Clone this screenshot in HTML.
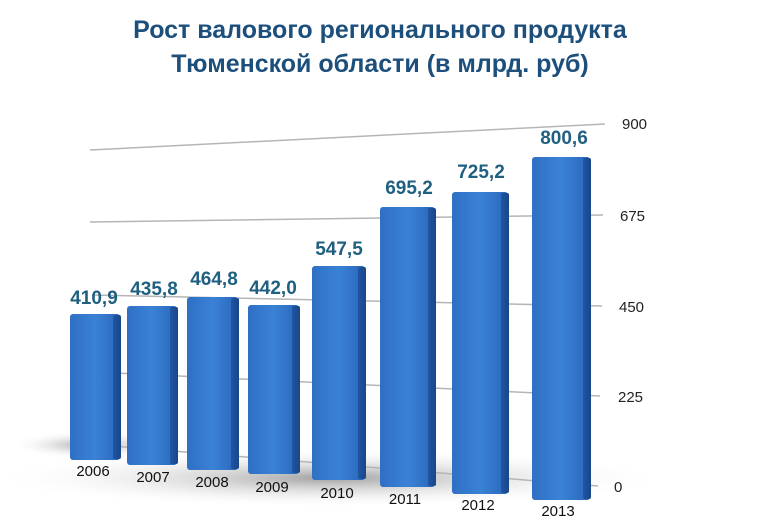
<!DOCTYPE html>
<html><head><meta charset="utf-8"><style>
html,body{margin:0;padding:0;background:#fff;width:760px;height:532px;overflow:hidden}
</style></head><body>
<svg width="760" height="532" viewBox="0 0 760 532" xmlns="http://www.w3.org/2000/svg" font-family="'Liberation Sans', sans-serif">
<defs>
<linearGradient id="bf" x1="0" y1="0" x2="1" y2="0">
<stop offset="0" stop-color="#2f6fc4"/><stop offset="0.5" stop-color="#3a82d6"/><stop offset="1" stop-color="#2a66ba"/>
</linearGradient>
<linearGradient id="bs" x1="0" y1="0" x2="1" y2="0">
<stop offset="0" stop-color="#1f56a3"/><stop offset="1" stop-color="#1a4688"/>
</linearGradient>
<radialGradient id="sh" cx="0.5" cy="0.5" r="0.5">
<stop offset="0" stop-color="#777" stop-opacity="0.7"/><stop offset="1" stop-color="#fff" stop-opacity="0"/>
</radialGradient>
</defs>
<text x="380" y="38" text-anchor="middle" font-size="25" font-weight="bold" fill="#1c4f7c" font-family="'Liberation Sans Narrow','Liberation Sans',sans-serif">Рост валового регионального продукта</text>
<text x="380" y="72" text-anchor="middle" font-size="25" font-weight="bold" fill="#1c4f7c" font-family="'Liberation Sans Narrow','Liberation Sans',sans-serif">Тюменской области (в млрд. руб)</text>
<ellipse cx="330" cy="478" rx="340" ry="30" fill="url(#sh)"/>
<ellipse cx="90" cy="445" rx="80" ry="14" fill="url(#sh)"/>
<g stroke="#b5b5b5" stroke-width="1.5">
<line x1="90" y1="150" x2="605" y2="124"/>
<line x1="90" y1="222" x2="603" y2="215"/>
<line x1="92" y1="295" x2="602" y2="306"/>
<line x1="95" y1="372" x2="600" y2="396"/>
<line x1="100" y1="445" x2="598" y2="486"/>
</g>
<g font-size="15" fill="#222">
<text x="622" y="129">900</text><text x="620" y="221">675</text><text x="619" y="312">450</text><text x="618" y="402">225</text><text x="614" y="492">0</text>
</g>
<g>
<rect x="70" y="314" width="50" height="146" rx="3" fill="url(#bf)"/><rect x="113" y="315" width="8" height="144" rx="2" fill="url(#bs)"/>
<rect x="127" y="306" width="50" height="159" rx="3" fill="url(#bf)"/><rect x="170" y="307" width="8" height="157" rx="2" fill="url(#bs)"/>
<rect x="187" y="297" width="51" height="173" rx="3" fill="url(#bf)"/><rect x="231" y="298" width="8" height="171" rx="2" fill="url(#bs)"/>
<rect x="248" y="305" width="51" height="169" rx="3" fill="url(#bf)"/><rect x="292" y="306" width="8" height="167" rx="2" fill="url(#bs)"/>
<rect x="312" y="266" width="53" height="214" rx="3" fill="url(#bf)"/><rect x="358" y="267" width="8" height="212" rx="2" fill="url(#bs)"/>
<rect x="380" y="207" width="55" height="280" rx="3" fill="url(#bf)"/><rect x="428" y="208" width="8" height="278" rx="2" fill="url(#bs)"/>
<rect x="452" y="192" width="56" height="302" rx="3" fill="url(#bf)"/><rect x="501" y="193" width="8" height="300" rx="2" fill="url(#bs)"/>
<rect x="532" y="157" width="58" height="343" rx="3" fill="url(#bf)"/><rect x="583" y="158" width="8" height="341" rx="2" fill="url(#bs)"/>
</g>
<g font-size="19" font-weight="bold" fill="#1f5f80" text-anchor="middle">
<text x="94" y="304">410,9</text><text x="154" y="295">435,8</text><text x="214" y="285">464,8</text><text x="273" y="294">442,0</text>
<text x="339" y="255">547,5</text><text x="409" y="194">695,2</text><text x="481" y="178">725,2</text><text x="564" y="144">800,6</text>
</g>
<g font-size="15" fill="#111" text-anchor="middle">
<text x="93" y="476">2006</text><text x="153" y="482">2007</text><text x="212" y="487">2008</text><text x="272" y="492">2009</text>
<text x="337" y="498">2010</text><text x="405" y="504">2011</text><text x="478" y="510">2012</text><text x="558" y="516">2013</text>
</g>
</svg>
</body></html>
